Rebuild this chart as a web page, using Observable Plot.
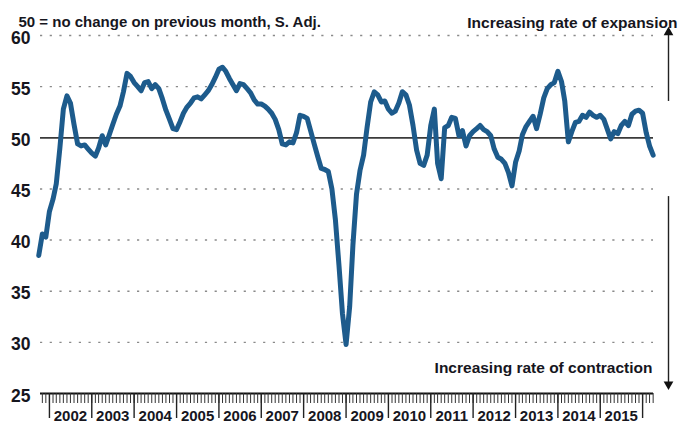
<!DOCTYPE html>
<html>
<head>
<meta charset="utf-8">
<script src="https://cdn.jsdelivr.net/npm/d3@7"></script>
<script src="https://cdn.jsdelivr.net/npm/@observablehq/plot@0.6"></script>
<style>
  html, body { margin: 0; padding: 0; background: #fff; }
  #chart svg { display: block; }
</style>
</head>
<body>
<div id="chart"></div>
<script>
// ---- data ----
const firstMonth = "2001-10-01"; // first observation (monthly, seasonally adjusted)
const values = [
  38.5, 40.6, 40.3,                                                   // 2001 Oct-Dec
  42.8, 44.0, 45.5, 49.0, 52.8, 54.1, 53.4, 51.3, 49.4, 49.2, 49.3, 48.9, // 2002
  48.5, 48.2, 49.0, 50.2, 49.3, 50.3, 51.3, 52.3, 53.1, 54.5, 56.3, 56.0, // 2003
  55.4, 55.0, 54.6, 55.4, 55.5, 54.8, 55.2, 54.8, 53.8, 52.7, 51.8, 50.9, // 2004
  50.8, 51.6, 52.4, 53.0, 53.4, 53.9, 54.0, 53.8, 54.2, 54.6, 55.2, 55.9, // 2005
  56.7, 56.9, 56.5, 55.8, 55.2, 54.6, 55.3, 55.2, 54.8, 54.4, 53.7, 53.3, // 2006
  53.3, 53.1, 52.8, 52.4, 51.8, 50.8, 49.4, 49.3, 49.6, 49.5, 50.5, 52.2, // 2007
  52.1, 51.9, 50.7, 49.4, 48.2, 47.0, 46.9, 46.7, 45.0, 42.0, 37.5, 32.8, // 2008
  29.8, 33.5, 39.5, 44.5, 46.8, 48.3, 51.0, 53.5, 54.5, 54.2, 53.5, 53.6, // 2009
  52.8, 52.4, 52.6, 53.4, 54.5, 54.2, 53.2, 51.2, 48.8, 47.5, 47.3, 48.3, // 2010
  51.2, 52.8, 47.5, 46.0, 51.0, 51.2, 52.0, 51.9, 50.2, 50.7, 49.2, 50.2, // 2011
  50.6, 50.9, 51.2, 50.8, 50.6, 50.2, 48.9, 48.1, 47.9, 47.5, 46.6, 45.3, // 2012
  47.6, 48.7, 50.3, 51.1, 51.6, 52.1, 50.9, 52.3, 53.9, 54.8, 55.2, 55.4, // 2013
  56.5, 55.5, 53.6, 49.6, 50.6, 51.5, 51.6, 52.2, 52.0, 52.5, 52.2, 52.0, // 2014
  52.2, 51.8, 50.9, 49.9, 50.6, 50.4, 51.2, 51.6, 51.2, 52.3, 52.6, 52.7, // 2015
  52.4, 50.5, 49.2, 48.3                                              // 2016 Jan-Apr
];
const yTicks = [25, 30, 35, 40, 45, 50, 55, 60];
const gridValues = [30, 35, 40, 45, 55, 60];
const noChange = [50];
const yearLabels = [2002, 2003, 2004, 2005, 2006, 2007, 2008, 2009, 2010, 2011, 2012, 2013, 2014, 2015];
const titleText = ["50 = no change on previous month, S. Adj."];
const expansionText = ["Increasing rate of expansion"];
const contractionText = ["Increasing rate of contraction"];
const arrowUp = {from: 53.6, to: 60.7};
const arrowDown = {from: 44.3, to: 25.5};

// ---- derived tables ----
const start = new Date(firstMonth);
const series = values.map((v, i) => ({date: d3.utcMonth.offset(start, i), value: v}));
const xDomain = [new Date("2001-10-16"), new Date("2016-04-04")];
const monthTicks = d3.utcMonth.range(xDomain[0], xDomain[1]);
const yearTicks = d3.utcYear.range(xDomain[0], xDomain[1]);
const yearLabelDates = yearLabels.map(y => new Date(Date.UTC(y, 6, 1)));
const endDate = xDomain[1];
const arrowLinks = [
  {x: endDate, y1: arrowUp.from, y2: arrowUp.to - 0.6},
  {x: endDate, y1: arrowDown.from, y2: arrowDown.to + 0.6}
];
const arrowHeads = [
  {x: endDate, y: arrowUp.to - 0.4, rotate: 0},
  {x: endDate, y: arrowDown.to + 0.4, rotate: 180}
];

const ink = "#16161e";
const chart = Plot.plot({
  width: 683,
  height: 430,
  marginLeft: 40,
  marginRight: 30,
  marginTop: 35,
  marginBottom: 37,
  style: {fontFamily: "'Liberation Sans', Arial, sans-serif", fontWeight: "bold", color: ink, background: "#fff"},
  x: {type: "utc", domain: xDomain, label: null},
  y: {domain: [25, 60], label: null},
  marks: [
    Plot.ruleY(gridValues, {stroke: "#8a8a8a", strokeWidth: 1.4, strokeDasharray: "2.2,7.5"}),
    Plot.ruleY(noChange, {stroke: "#3a3a3a", strokeWidth: 1.8}),
    Plot.ruleY([25], {stroke: "#111", strokeWidth: 2.2}),
    Plot.axisY({ticks: yTicks, tickSize: 0, tickPadding: 10, fontSize: 17.5, dy: 2.5, label: null, fill: ink}),
    Plot.axisX({ticks: monthTicks, tickSize: 10, tickFormat: () => "", label: null, stroke: "#333", strokeWidth: 1}),
    Plot.axisX({ticks: yearTicks, tickSize: 25, tickFormat: () => "", label: null, stroke: "#222", strokeWidth: 1.4}),
    Plot.axisX({ticks: yearLabelDates, tickSize: 0, tickPadding: 17, tickFormat: "%Y", fontSize: 15, label: null, fill: ink}),
    Plot.line(series, {x: "date", y: "value", stroke: "#1d5b8c", strokeWidth: 5, strokeLinejoin: "round", strokeLinecap: "round"}),
    Plot.link(arrowLinks, {x1: "x", x2: "x", y1: "y1", y2: "y2", dx: 15, stroke: "#222", strokeWidth: 1.4}),
    Plot.dot(arrowHeads, {x: "x", y: "y", rotate: "rotate", dx: 15, symbol: "triangle", r: 3.6, fill: "#111", stroke: null}),
    Plot.text(titleText, {text: d => d, frameAnchor: "top-left", textAnchor: "start", dx: -22, dy: -19.5, fontSize: 15, fill: ink}),
    Plot.text(expansionText, {text: d => d, frameAnchor: "top-right", textAnchor: "end", dx: 24, dy: -18.5, fontSize: 15.5, fill: ink}),
    Plot.text(contractionText, {text: d => d, frameAnchor: "bottom-right", textAnchor: "end", dx: -1, dy: -20.5, fontSize: 15.5, fill: ink})
  ]
});
document.getElementById("chart").appendChild(chart);
</script>
</body>
</html>
